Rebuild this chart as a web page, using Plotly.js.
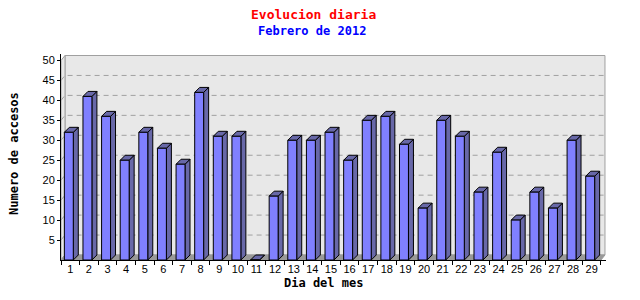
<!DOCTYPE html>
<html>
<head>
<meta charset="utf-8">
<script src="https://cdn.plot.ly/plotly-3.0.1.min.js"></script>
<style>html,body{margin:0;padding:0;background:#fff;}#chart{width:640px;height:300px;}</style>
</head>
<body>
<div id="chart"></div>
<script>
// ---- data ----
const dayLabels = ['1','2','3','4','5','6','7','8','9','10','11','12','13','14','15','16','17','18','19','20','21','22','23','24','25','26','27','28','29'];
const visits = [32,41,36,25,32,28,24,42,31,31,0,16,30,30,32,25,35,36,29,13,35,31,17,27,10,17,13,30,21];
const yTickVals = [5,10,15,20,25,30,35,40,45,50];
const yMax = 50;

// ---- geometry (pixels -> data units) ----
const M = {l:61, r:34, t:54, b:40};
const PW = 640 - M.l - M.r, PH = 300 - M.t - M.b;
const PX_X = 18.62, PX_Y = 3.99;
const n = dayLabels.length;
const xs = dayLabels.map((_, i) => i + 1);
const x0 = 0.5, x1 = n + 0.5;
const xRange = [x0, x0 + PW / PX_X];
const yRange = [0, PH / PX_Y];
const wdx = 4 / PX_X, wdy = 5 / PX_Y;      // wall depth
const bdx = 5 / PX_X, bdy = 5 / PX_Y;      // bar depth
const fOff = -0.32, fW = 0.48;            // front face

// walls
const backWall = {x:[x0+wdx, x1+wdx, x1+wdx, x0+wdx, x0+wdx], y:[wdy, wdy, yMax+wdy, yMax+wdy, wdy]};
const leftWall = {x:[x0, x0+wdx, x0+wdx, x0, x0], y:[0, wdy, yMax+wdy, yMax, 0]};
const floor = {x:[x0, x1, x1+wdx, x0+wdx, x0], y:[0, 0, wdy, wdy, 0]};

// grid lines
const gx = [], gy = [];
yTickVals.filter(v => v < yMax).forEach(v => {
  gx.push(x0, x0+wdx, x1+wdx, null);
  gy.push(v, v+wdy, v+wdy, null);
});

// bar faces
const fx = [], fy = [], sx = [], sy = [], tx = [], ty = [];
xs.forEach((x, i) => {
  const v = visits[i];
  const xl = x + fOff, xr = x + fOff + fW;
  fx.push(xl, xr, xr, xl, xl, null);
  fy.push(0, 0, v, v, 0, null);
  sx.push(xr, xr+bdx, xr+bdx, xr, xr, null);
  sy.push(0, bdy, v+bdy, v, 0, null);
  tx.push(xl, xr, xr+bdx, xl+bdx, xl, null);
  ty.push(v, v, v+bdy, v+bdy, v, null);
});

const poly = (x, y, fillcolor, lineColor) => ({type:'scatter', mode:'lines', x, y, fill:'toself', fillcolor, line:{color:lineColor, width:1}, hoverinfo:'skip'});

const traces = [
  poly(backWall.x, backWall.y, '#e8e8e8', '#a0a0a0'),
  poly(leftWall.x, leftWall.y, '#e8e8e8', '#a0a0a0'),
  poly(floor.x, floor.y, '#999999', '#999999'),
  {type:'scatter', mode:'lines', x:gx, y:gy, line:{color:'#a0a0a0', width:1, dash:'5px,4px'}, hoverinfo:'skip'},
  poly(sx, sy, '#6868a8', '#000'),
  poly(tx, ty, '#6868a8', '#000'),
  poly(fx, fy, '#8080ff', '#000')
];

const boundaries = [];
for (let i = 0; i <= n; i++) boundaries.push(i + 0.5);

const layout = {
  width:640, height:300,
  margin:M,
  paper_bgcolor:'#ffffff', plot_bgcolor:'#ffffff',
  showlegend:false,
  font:{family:'Liberation Sans, Arial, sans-serif', size:10, color:'#000'},
  xaxis:{range:xRange, showgrid:false, zeroline:false, showline:true, linecolor:'#000', linewidth:1,
         tickmode:'array', tickvals:xs, ticktext:dayLabels, ticks:'', ticklabelstandoff:-1,
         minor:{tickmode:'array', tickvals:boundaries, ticks:'outside', ticklen:4, tickcolor:'#000', showgrid:false},
         tickfont:{family:'Liberation Sans, Arial, sans-serif', size:11, color:'#000'}},
  yaxis:{range:yRange, showgrid:false, zeroline:false, showline:true, linecolor:'#000', linewidth:1,
         tickmode:'array', tickvals:yTickVals, ticks:'outside', ticklen:3, tickcolor:'#000',
         tickfont:{family:'Liberation Sans, Arial, sans-serif', size:11, color:'#000'}},
  annotations:[
    {text:'Evolucion diaria', xref:'paper', yref:'paper', x:(313-M.l)/PW, y:(300-M.b-14)/PH, xanchor:'center', yanchor:'middle', showarrow:false,
     font:{family:'DejaVu Sans Mono', size:13, color:'#ff0000', weight:'bold'}},
    {text:'Febrero de 2012', xref:'paper', yref:'paper', x:(312-M.l)/PW, y:(300-M.b-31)/PH, xanchor:'center', yanchor:'middle', showarrow:false,
     font:{family:'DejaVu Sans Mono', size:12, color:'#0000ff', weight:'bold'}},
    {text:'Numero de accesos', xref:'paper', yref:'paper', x:(14-M.l)/PW, y:(300-M.b-154)/PH, xanchor:'center', yanchor:'middle', textangle:-90, showarrow:false,
     font:{family:'DejaVu Sans Mono', size:12, color:'#000', weight:'bold'}},
    {text:'Dia del mes', xref:'paper', yref:'paper', x:(323-M.l)/PW, y:(300-M.b-283)/PH, xanchor:'center', yanchor:'middle', showarrow:false,
     font:{family:'DejaVu Sans Mono', size:12, color:'#000', weight:'bold'}}
  ]
};

Plotly.newPlot('chart', traces, layout, {staticPlot:true, displayModeBar:false});
</script>
</body>
</html>
